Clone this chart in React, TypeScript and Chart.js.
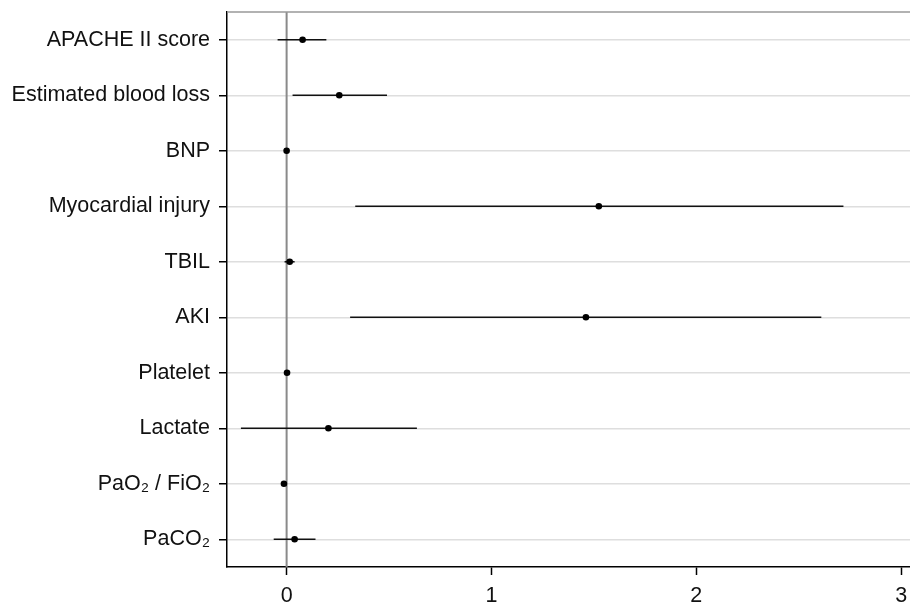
import { useEffect, useRef } from 'react';
import { Chart, registerables } from 'chart.js';

Chart.register(...registerables);

const categories = [
  'APACHE II score',
  'Estimated blood loss',
  'BNP',
  'Myocardial injury',
  'TBIL',
  'AKI',
  'Platelet',
  'Lactate',
  'PaO₂ / FiO₂',
  'PaCO₂',
];
const estimates = [0.078, 0.257, 0.0, 1.524, 0.015, 1.461, 0.002, 0.204, -0.013, 0.039];
const lowerCI = [-0.044, 0.029, -0.003, 0.335, -0.01, 0.31, -0.002, -0.223, -0.016, -0.063];
const upperCI = [0.194, 0.49, 0.003, 2.718, 0.039, 2.61, 0.006, 0.636, -0.01, 0.141];
const xTicks = [0, 1, 2, 3];
const referenceValue = 0;
const xMin = -0.291;
const xMax = 3.121;

const FONT = "'Liberation Sans', Arial, sans-serif";

const topBorder = {
  id: 'topBorder',
  afterDraw(chart: any) {
    const { ctx, chartArea } = chart;
    ctx.save();
    ctx.strokeStyle = '#999999';
    ctx.lineWidth = 1.5;
    ctx.beginPath();
    ctx.moveTo(chartArea.left, chartArea.top);
    ctx.lineTo(chartArea.right, chartArea.top);
    ctx.stroke();
    ctx.restore();
  },
};

export default function App() {
  const ref = useRef<HTMLCanvasElement | null>(null);

  useEffect(() => {
    if (!ref.current) return;
    const pointsDs = {
      type: 'scatter',
      data: estimates.map((v, i) => ({ x: v, y: i })),
      pointRadius: 3.3,
      pointBackgroundColor: '#000',
      pointBorderWidth: 0,
      showLine: false,
    };
    const ciDs = categories.map((_, i) => ({
      type: 'scatter',
      data: [
        { x: lowerCI[i], y: i },
        { x: upperCI[i], y: i },
      ],
      showLine: true,
      borderColor: '#111',
      borderWidth: 1.6,
      pointRadius: 0,
    }));
    const refDs = {
      type: 'scatter',
      data: [
        { x: referenceValue, y: -0.5 },
        { x: referenceValue, y: categories.length - 0.5 },
      ],
      showLine: true,
      borderColor: '#8a8a8a',
      borderWidth: 2,
      pointRadius: 0,
    };

    const chart = new Chart(ref.current, {
      type: 'scatter',
      data: { datasets: [pointsDs, ...ciDs, refDs] as any },
      plugins: [topBorder],
      options: {
        animation: false,
        responsive: false,
        devicePixelRatio: 1,
        layout: { padding: { top: 12, left: 0, right: 0, bottom: 0 } },
        plugins: { legend: { display: false }, tooltip: { enabled: false } },
        scales: {
          x: {
            type: 'linear',
            min: xMin,
            max: xMax,
            afterBuildTicks: (axis: any) => {
              axis.ticks = xTicks.map((v) => ({ value: v }));
            },
            afterFit: (s: any) => {
              s.height = 36;
            },
            grid: {
              drawOnChartArea: false,
              drawTicks: true,
              tickLength: 8,
              tickColor: '#000',
              tickWidth: 1.5,
            },
            border: { display: true, color: '#000', width: 1.5 },
            ticks: {
              color: '#111',
              padding: 8,
              font: { family: FONT, size: 21.5 },
              callback: (v: any) => String(v),
            },
          },
          y: {
            type: 'linear',
            reverse: true,
            min: -0.5,
            max: categories.length - 0.5,
            afterBuildTicks: (axis: any) => {
              axis.ticks = categories.map((_, i) => ({ value: i }));
            },
            afterFit: (s: any) => {
              s.width = 227;
              s.paddingTop = 0;
              s.paddingBottom = 0;
            },
            grid: {
              color: '#dedede',
              lineWidth: 1.5,
              drawTicks: true,
              tickLength: 8,
              tickColor: '#000',
              tickWidth: 1.5,
            },
            border: { display: true, color: '#000', width: 1.5 },
            ticks: {
              color: '#111',
              padding: 9,
              font: { family: FONT, size: 21.5 },
              callback: (v: any) => categories[v] ?? '',
            },
          },
        },
      } as any,
    });
    return () => chart.destroy();
  }, []);

  return (
    <div
      style={{
        position: 'fixed',
        left: 0,
        top: 0,
        width: 910,
        height: 603,
        overflow: 'hidden',
        background: '#fff',
      }}
    >
      <canvas ref={ref} width={930} height={603} style={{ display: 'block', width: 930, height: 603 }} />
    </div>
  );
}
